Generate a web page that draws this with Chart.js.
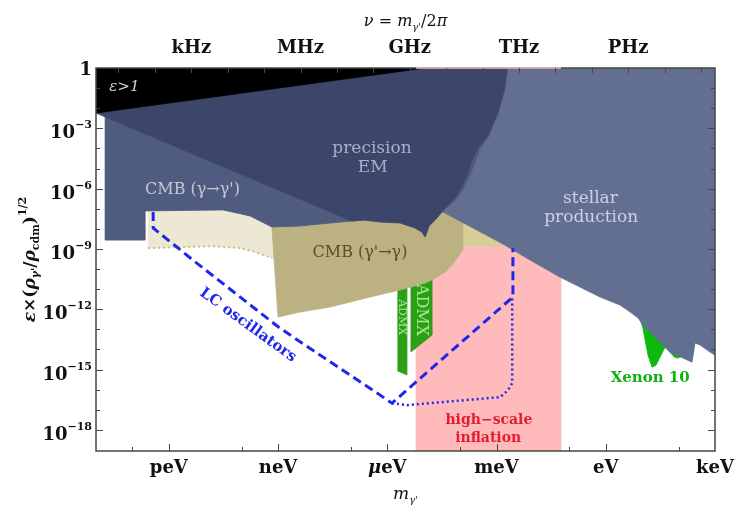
<!DOCTYPE html>
<html>
<head>
<meta charset="utf-8">
<script src="https://cdn.jsdelivr.net/npm/chart.js@4.4.1/dist/chart.umd.min.js"></script>
<style>
  html, body { margin: 0; padding: 0; background: #fff; }
  canvas { display: block; }
</style>
</head>
<body>
<canvas id="plot" width="736" height="511"></canvas>
<script>
// Both axes are in decades: x = log10(m / eV), y = log10(coupling).
const massRange = [-14, 3];
const couplingRange = [-19.05, 0];

// Axis ticks
const massTickExp = [-12, -9, -6, -3, 0, 3];
const massTickNames = ['peV', 'neV', 'μeV', 'meV', 'eV', 'keV'];
const massMinorExp = [-13, -10, -7, -4, -1, 2];
const freqTickHz = [1e3, 1e6, 1e9, 1e12, 1e15];
const freqTickNames = ['kHz', 'MHz', 'GHz', 'THz', 'PHz'];
const couplingTickExp = [0, -3, -6, -9, -12, -15, -18];
const PLANCK_EV_S = 4.135667e-15;   // m = h * nu

// Exclusion / sensitivity regions, [log10 m, log10 coupling]
const inflationBand = [[-5.21, 0], [-1.23, 0], [-1.23, -19.05], [-5.21, -19.05]];
const cmbPale = [[-12.57, -6.82], [-9.0, -6.82], [-9.0, -9.55], [-9.17, -9.45], [-9.63, -9.15],
  [-10.04, -8.96], [-10.79, -8.86], [-12.57, -8.96]];
const cmbPaleEdge = [[-12.57, -8.96], [-10.79, -8.86], [-10.04, -8.96], [-9.63, -9.15], [-9.17, -9.45]];
const cmbKhaki = [[-4.55, -6.8], [-2.6, -6.8], [-2.6, -8.86], [-4.55, -8.86]];
const cmbDark = [[-9.17, -7.91], [-8.67, -6.82], [-4.55, -6.82], [-3.92, -7.56], [-3.92, -9.05],
  [-4.06, -9.40], [-4.22, -9.80], [-4.41, -10.15], [-4.74, -10.50], [-4.96, -10.70],
  [-5.65, -11.04], [-6.47, -11.39], [-7.57, -11.89], [-8.40, -12.14], [-9.00, -12.39]];
const admxA = [[-5.71, -9.80], [-5.46, -9.80], [-5.46, -15.27], [-5.71, -15.07]];
const admxB = [[-5.35, -9.80], [-4.77, -9.80], [-4.77, -13.28], [-5.35, -14.13]];
const xenon10 = [[0.94, -12.44], [1.02, -12.94], [1.08, -13.53], [1.16, -14.28], [1.27, -14.88],
  [1.38, -14.78], [1.49, -14.38], [1.63, -13.88], [1.76, -14.13], [1.88, -14.38],
  [1.98, -14.43], [2.09, -14.33], [2.31, -14.03], [1.49, -12.54]];
const cmbSlate = [[-13.75, 0], [-13.75, -8.56], [-12.65, -8.56], [-12.65, -7.11], [-10.51, -7.06],
  [-9.77, -7.36], [-9.17, -7.91], [-8.40, -7.86], [-7.57, -7.71], [-6.97, -7.61],
  [-6.67, -7.56], [-4.47, -7.16], [-3.70, -5.97], [-3.20, -4.08], [-2.60, -2.09], [-2.40, 0]];
const precisionEM = [[-14, 0], [-14, -2.24], [-6.97, -7.61], [-6.67, -7.56], [-6.20, -7.66],
  [-5.65, -7.71], [-5.24, -7.96], [-5.05, -8.16], [-4.96, -8.41], [-4.85, -7.86],
  [-4.66, -7.51], [-4.41, -6.97], [-4.14, -6.47], [-3.97, -5.97], [-3.81, -5.32],
  [-3.67, -4.58], [-3.51, -3.98], [-3.23, -3.33], [-2.96, -2.19], [-2.79, -1.09], [-2.71, 0]];
const stellar = [[-2.67, 0], [-2.75, -1.09], [-2.92, -2.19], [-3.19, -3.40], [-3.45, -4.06],
  [-3.57, -4.70], [-3.71, -5.35], [-3.88, -6.00], [-4.14, -6.62], [-4.47, -7.16],
  [-2.82, -8.76], [-2.08, -9.55], [-1.26, -10.40], [-0.16, -11.39], [0.39, -11.79],
  [0.67, -12.14], [0.89, -12.44], [1.02, -12.79], [1.76, -14.13], [2.12, -14.43],
  [2.37, -14.63], [2.45, -13.68], [2.59, -13.78], [2.86, -14.13], [3.0, -14.28], [3.0, 0]];
const unitarity = [[-14, 0], [-14, -2.24], [-4.96, 0]];
const lcDashed = [[-12.43, -7.16], [-12.43, -7.96], [-11.34, -9.55], [-8.95, -12.94],
  [-5.87, -16.67], [-2.55, -11.39], [-2.55, -8.96]];
const lcDotted = [[-5.87, -16.67], [-5.46, -16.77], [-2.90, -16.37], [-2.68, -16.02],
  [-2.57, -15.67], [-2.57, -11.39]];

const SERIF = '"DejaVu Serif", serif';
const COLORS = {
  inflation: 'rgb(255,187,187)',
  cmbPale: 'rgb(237,232,212)',
  cmbEdge: 'rgb(206,190,134)',
  cmbKhaki: 'rgb(214,206,152)',
  cmbDark: 'rgb(187,177,129)',
  admx: 'rgb(44,160,20)',
  xenon: 'rgb(12,185,12)',
  cmbSlate: 'rgb(79,91,127)',
  precision: 'rgb(59,70,106)',
  stellar: 'rgb(99,111,145)',
  unitarity: 'rgb(0,0,0)',
  lc: 'rgb(30,40,235)',
  frame: 'rgb(70,70,70)'
};

// Text placed inside the plot, anchored in data coordinates
const annotations = [
  { t: 'ε>1', m: -13.22, c: -0.95, font: 'italic 15px ' + SERIF, color: '#d6d6d6' },
  { t: 'precision', m: -6.42, c: -4.03, font: '17px ' + SERIF, color: 'rgb(168,175,198)' },
  { t: 'EM', m: -6.40, c: -4.93, font: '17px ' + SERIF, color: 'rgb(168,175,198)' },
  { t: 'CMB (γ→γ\')', m: -11.35, c: -6.07, font: '16px ' + SERIF, color: 'rgb(196,200,215)' },
  { t: 'stellar', m: -0.42, c: -6.47, font: '17px ' + SERIF, color: 'rgb(205,210,225)' },
  { t: 'production', m: -0.40, c: -7.46, font: '17px ' + SERIF, color: 'rgb(205,210,225)' },
  { t: 'CMB (γ\'→γ)', m: -6.75, c: -9.20, font: '16px ' + SERIF, color: 'rgb(90,80,38)' },
  { t: 'LC oscillators', m: -9.83, c: -12.79, font: 'bold 15px ' + SERIF, color: COLORS.lc, rot: 36 },
  { t: 'ADMX', m: -5.07, c: -12.04, font: '16px ' + SERIF, color: 'rgb(170,228,150)', rot: 90 },
  { t: 'ADMX', m: -5.59, c: -12.39, font: '11px ' + SERIF, color: 'rgb(170,228,150)', rot: 90 },
  { t: 'Xenon 10', m: 1.22, c: -15.42, font: 'bold 15px ' + SERIF, color: 'rgb(20,175,20)' },
  { t: 'high−scale', m: -3.21, c: -17.51, font: 'bold 14px ' + SERIF, color: 'rgb(228,30,50)' },
  { t: 'inflation', m: -3.23, c: -18.41, font: 'bold 14px ' + SERIF, color: 'rgb(228,30,50)' }
];

const toXY = arr => arr.map(([x, y]) => ({ x, y }));
function region(data, color, order) {
  return { data: toXY(data), polygon: true, backgroundColor: color, order,
    pointRadius: 0, showLine: false };
}
function curve(data, color, width, dash, order) {
  return { data: toXY(data), borderColor: color, borderWidth: width, borderDash: dash,
    showLine: true, pointRadius: 0, fill: false, order, borderCapStyle: 'butt' };
}

function rich(ctx, parts, x, y, align) {
  let w = 0;
  parts.forEach(p => { ctx.font = p.font; p.w = ctx.measureText(p.t).width; w += p.w; });
  let cx = align === 'center' ? x - w / 2 : align === 'right' ? x - w : x;
  ctx.textAlign = 'left';
  parts.forEach(p => { ctx.font = p.font; ctx.fillText(p.t, cx, y + (p.dy || 0)); cx += p.w; });
}

// Closed polygons are filled from the dataset's element positions
const polygonFill = {
  id: 'polygonFill',
  beforeDatasetDraw(chart, args) {
    const ds = chart.data.datasets[args.index];
    if (!ds.polygon) return;
    const ctx = chart.ctx, a = chart.chartArea;
    const pts = args.meta.data;
    ctx.save();
    ctx.beginPath();
    ctx.rect(a.left, a.top, a.right - a.left, a.bottom - a.top);
    ctx.clip();
    ctx.beginPath();
    pts.forEach((p, i) => (i ? ctx.lineTo(p.x, p.y) : ctx.moveTo(p.x, p.y)));
    ctx.closePath();
    ctx.fillStyle = ds.backgroundColor;
    ctx.strokeStyle = ds.backgroundColor;
    ctx.lineWidth = 0.8;
    ctx.lineJoin = 'round';
    ctx.fill();
    ctx.stroke();
    ctx.restore();
    return false;
  }
};

const labelsAndFrame = {
  id: 'labelsAndFrame',
  afterDatasetsDraw(chart) {
    const ctx = chart.ctx, xs = chart.scales.x, ys = chart.scales.y;
    ctx.save();
    annotations.forEach(a => {
      const px = xs.getPixelForValue(a.m), py = ys.getPixelForValue(a.c);
      ctx.save();
      ctx.translate(px, py);
      if (a.rot) ctx.rotate(a.rot * Math.PI / 180);
      ctx.font = a.font;
      ctx.fillStyle = a.color;
      ctx.textAlign = 'center';
      ctx.textBaseline = 'middle';
      ctx.fillText(a.t, 0, 0);
      ctx.restore();
    });
    ctx.restore();
  },
  afterDraw(chart) {
    const ctx = chart.ctx, a = chart.chartArea, xs = chart.scales.x, ys = chart.scales.y;
    ctx.save();
    // frame
    ctx.strokeStyle = COLORS.frame;
    ctx.lineWidth = 1.5;
    ctx.strokeRect(a.left, a.top, a.right - a.left, a.bottom - a.top);
    // the inflation band runs up to the top edge
    ctx.strokeStyle = COLORS.inflation;
    ctx.beginPath();
    ctx.moveTo(xs.getPixelForValue(inflationBand[0][0]), a.top);
    ctx.lineTo(xs.getPixelForValue(inflationBand[1][0]), a.top);
    ctx.stroke();

    ctx.strokeStyle = COLORS.frame;
    ctx.lineWidth = 1;
    ctx.beginPath();
    // left & right ticks: every decade, longer on labelled ones
    for (let e = 0; e >= -19; e--) {
      const y = Math.round(ys.getPixelForValue(e)) + 0.5;
      if (y > a.bottom - 1 || y < a.top + 1) continue;
      const len = couplingTickExp.includes(e) ? 7 : 4;
      ctx.moveTo(a.left, y); ctx.lineTo(a.left + len, y);
      ctx.moveTo(a.right, y); ctx.lineTo(a.right - len, y);
    }
    // bottom ticks
    massTickExp.forEach(e => {
      const x = Math.round(xs.getPixelForValue(e)) + 0.5;
      if (x >= a.right - 1) return;
      ctx.moveTo(x, a.bottom); ctx.lineTo(x, a.bottom - 7);
    });
    massMinorExp.forEach(e => {
      const x = Math.round(xs.getPixelForValue(e)) + 0.5;
      ctx.moveTo(x, a.bottom); ctx.lineTo(x, a.bottom - 4);
    });
    // top ticks: every decade in frequency
    for (let k = 0; k < 20; k++) {
      const lm = Math.log10(PLANCK_EV_S) + k;
      if (lm <= massRange[0] || lm >= massRange[1]) continue;
      const x = Math.round(xs.getPixelForValue(lm)) + 0.5;
      ctx.moveTo(x, a.top); ctx.lineTo(x, a.top + 5);
    }
    ctx.stroke();

    ctx.fillStyle = '#111';
    ctx.textBaseline = 'alphabetic';
    // coupling tick labels
    couplingTickExp.forEach(e => {
      const y = ys.getPixelForValue(e);
      if (e === 0) {
        rich(ctx, [{ t: '1', font: 'bold 18px ' + SERIF }], a.left - 4, y + 7, 'right');
      } else {
        rich(ctx, [
          { t: '10', font: 'bold 18px ' + SERIF },
          { t: '−' + Math.abs(e), font: 'bold 11px ' + SERIF, dy: -10 }
        ], a.left - 4, y + 10, 'right');
      }
    });
    // mass tick labels
    massTickExp.forEach((e, i) => {
      const x = xs.getPixelForValue(e);
      const name = massTickNames[i];
      const parts = name.startsWith('μ')
        ? [{ t: 'μ', font: 'italic bold 18px ' + SERIF }, { t: name.slice(1), font: 'bold 18px ' + SERIF }]
        : [{ t: name, font: 'bold 18px ' + SERIF }];
      rich(ctx, parts, x, 473, 'center');
    });
    // frequency tick labels
    freqTickHz.forEach((f, i) => {
      const x = xs.getPixelForValue(Math.log10(PLANCK_EV_S * f));
      rich(ctx, [{ t: freqTickNames[i], font: 'bold 18px ' + SERIF }], x, 53, 'center');
    });
    // axis titles
    const cx = (a.left + a.right) / 2;
    rich(ctx, [
      { t: 'ν', font: 'italic 16px ' + SERIF },
      { t: ' = ', font: '16px ' + SERIF },
      { t: 'm', font: 'italic 16px ' + SERIF },
      { t: 'γ\'', font: 'italic 10px ' + SERIF, dy: 4 },
      { t: '/2', font: '16px ' + SERIF },
      { t: 'π', font: 'italic 16px ' + SERIF }
    ], cx, 26, 'center');
    rich(ctx, [
      { t: 'm', font: 'italic 17px ' + SERIF },
      { t: 'γ\'', font: 'italic 10px ' + SERIF, dy: 4 }
    ], cx, 499, 'center');
    ctx.save();
    ctx.translate(35, (a.top + a.bottom) / 2);
    ctx.rotate(-Math.PI / 2);
    rich(ctx, [
      { t: 'ε', font: 'italic bold 17px ' + SERIF },
      { t: '×(', font: 'bold 17px ' + SERIF },
      { t: 'ρ', font: 'italic bold 17px ' + SERIF },
      { t: 'γ\'', font: 'italic bold 11px ' + SERIF, dy: 4 },
      { t: '/', font: 'bold 17px ' + SERIF },
      { t: 'ρ', font: 'italic bold 17px ' + SERIF },
      { t: 'cdm', font: 'bold 11px ' + SERIF, dy: 4 },
      { t: ')', font: 'bold 17px ' + SERIF },
      { t: '1/2', font: 'bold 11px ' + SERIF, dy: -9 }
    ], 0, 0, 'center');
    ctx.restore();
    ctx.restore();
  }
};

new Chart(document.getElementById('plot'), {
  type: 'scatter',
  data: {
    datasets: [
      region(inflationBand, COLORS.inflation, 20),
      region(cmbPale, COLORS.cmbPale, 19),
      curve(cmbPaleEdge, COLORS.cmbEdge, 2, [2, 3], 18),
      region(cmbKhaki, COLORS.cmbKhaki, 17),
      region(admxA, COLORS.admx, 16),
      region(admxB, COLORS.admx, 16),
      region(xenon10, COLORS.xenon, 15),
      region(cmbDark, COLORS.cmbDark, 14),
      region(cmbSlate, COLORS.cmbSlate, 13),
      region(precisionEM, COLORS.precision, 12),
      region(stellar, COLORS.stellar, 11),
      region(unitarity, COLORS.unitarity, 10),
      curve(lcDotted, COLORS.lc, 2.5, [2, 3], 2),
      curve(lcDashed, COLORS.lc, 3, [9, 5], 1)
    ]
  },
  options: {
    responsive: false,
    animation: false,
    devicePixelRatio: 1,
    events: [],
    layout: { padding: { left: 96, right: 21, top: 68, bottom: 60 } },
    plugins: { legend: { display: false }, tooltip: { enabled: false } },
    scales: {
      x: { type: 'linear', min: massRange[0], max: massRange[1], display: false },
      y: { type: 'linear', min: couplingRange[0], max: couplingRange[1], display: false }
    }
  },
  plugins: [polygonFill, labelsAndFrame]
});
</script>
</body>
</html>
